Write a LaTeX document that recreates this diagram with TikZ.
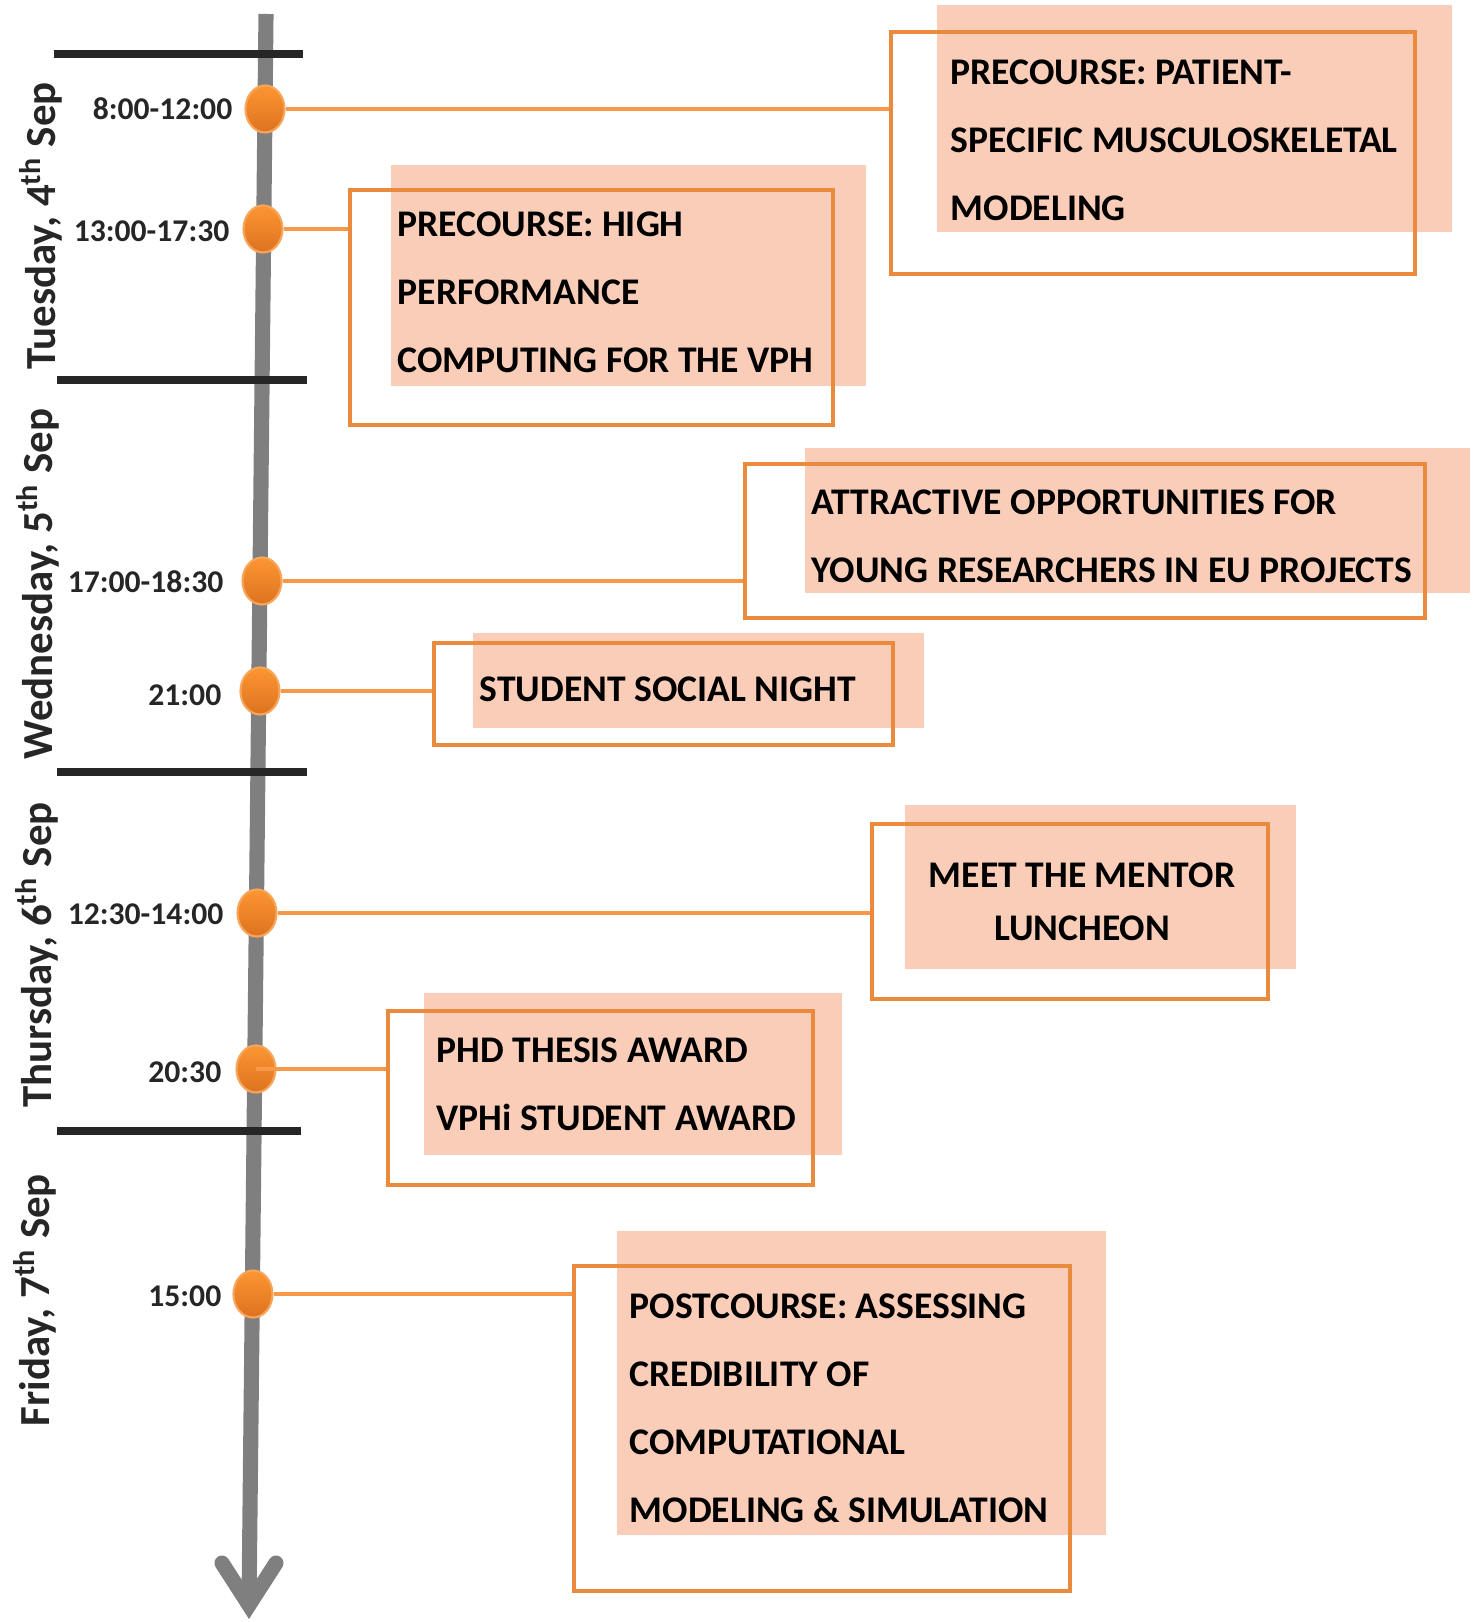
\documentclass[tikz,border=0pt]{standalone}
\usepackage{fontspec}
\setmainfont{Carlito}
\usetikzlibrary{shapes.geometric,fit}
\definecolor{tlgray}{RGB}{127,127,127}
\definecolor{barblack}{RGB}{38,38,38}
\definecolor{peach}{RGB}{249,205,184}
\definecolor{frameorange}{RGB}{233,138,60}
\definecolor{linkorange}{RGB}{246,152,72}
\definecolor{dottop}{RGB}{252,150,50}
\definecolor{dotbot}{RGB}{222,114,32}
\definecolor{dotedge}{RGB}{247,165,90}
\begin{document}
\begin{tikzpicture}[x=0.01cm,y=-0.01cm,
timeline/.style={draw=tlgray,line width=4.3pt},
dayline/.style={draw=barblack,line width=2.3pt},
dot/.style={ellipse,minimum width=0.39cm,minimum height=0.47cm,inner sep=0,top color=dottop,bottom color=dotbot,draw=dotedge,line width=0.6pt},
link/.style={draw=linkorange,line width=1pt},
peachfill/.style={fill=peach,inner sep=0},
frame/.style={draw=frameorange,line width=1.15pt,inner sep=0},
boxtext/.style={font=\fontsize{10.7}{19.3}\selectfont\bfseries,align=left,inner sep=0,anchor=west},
time/.style={font=\fontsize{9}{11}\selectfont\bfseries,inner sep=0,anchor=east,text=barblack},
day/.style={font=\fontsize{12.2}{14}\selectfont\bfseries,rotate=90,inner sep=0,text=barblack}]
\useasboundingbox (0,0) rectangle (1481,1622);
\node[peachfill,fit={(937,5)(1452,232)}] (p1) {};
\node[peachfill,fit={(391,165)(866,386)}] (p2) {};
\node[peachfill,fit={(805,448)(1470,593)}] (p3) {};
\node[peachfill,fit={(473,633)(924,728)}] (p4) {};
\node[peachfill,fit={(905,805)(1296,969)}] (p5) {};
\node[peachfill,fit={(424,993)(842,1155)}] (p6) {};
\node[peachfill,fit={(617,1231)(1106,1535)}] (p7) {};
\node[frame,fit={(891,32)(1415,274)}] (f1) {};
\node[frame,fit={(350,190)(833,425)}] (f2) {};
\node[frame,fit={(745,464)(1425,618)}] (f3) {};
\node[frame,fit={(434,643)(893,745)}] (f4) {};
\node[frame,fit={(872,824)(1268,999)}] (f5) {};
\node[frame,fit={(388,1011)(813,1185)}] (f6) {};
\node[frame,fit={(574,1266)(1070,1591)}] (f7) {};
\node[boxtext] (b1) at (950,140) {PRECOURSE: PATIENT-\\SPECIFIC MUSCULOSKELETAL\\MODELING};
\node[boxtext] (b2) at (397,292) {PRECOURSE: HIGH\\PERFORMANCE\\COMPUTING FOR THE VPH};
\node[boxtext] (b3) at (811,536) {ATTRACTIVE OPPORTUNITIES FOR\\YOUNG RESEARCHERS IN EU PROJECTS};
\node[boxtext] (b4) at (479,689) {STUDENT SOCIAL NIGHT};
\node[boxtext,align=center,anchor=center,font=\fontsize{10.7}{15.1}\selectfont\bfseries] (b5) at (1082,902) {MEET THE MENTOR\\LUNCHEON};
\node[boxtext] (b6) at (436,1084) {PHD THESIS AWARD\\VPHi STUDENT AWARD};
\node[boxtext] (b7) at (629,1408) {POSTCOURSE: ASSESSING\\CREDIBILITY OF\\COMPUTATIONAL\\MODELING \& SIMULATION};
\coordinate (top) at (266,14);\coordinate (tip) at (249,1605);
\draw[timeline] (top)--(tip);
\draw[timeline,line cap=round,line join=miter] (tip)++(-27,-42)--(tip)--++(27,-42);
\draw[dayline] (54,54)--(303,54) (57,380)--(307,380) (57,772)--(307,772) (57,1131)--(301,1131);
\node[day] (tue) at (41,226) {Tuesday, 4\textsuperscript{th} Sep};
\node[day] (wed) at (38,584) {Wednesday, 5\textsuperscript{th} Sep};
\node[day] (thu) at (37,955) {Thursday, 6\textsuperscript{th} Sep};
\node[day] (fri) at (35,1300) {Friday, 7\textsuperscript{th} Sep};
\node[dot] (d1) at (265,109) {};\node[dot] (d2) at (263,229) {};
\node[dot] (d3) at (262,581) {};\node[dot] (d4) at (260,691) {};
\node[dot] (d5) at (257,913) {};\node[dot] (d6) at (256,1069) {};
\node[dot] (d7) at (253,1294) {};
\draw[link] (d1.east)--(d1-|f1.west) (d2.east)--(d2-|f2.west) (d3.east)--(d3-|f3.west)
(d4.east)--(d4-|f4.west) (d5.east)--(d5-|f5.west) (d6.center)--(d6-|f6.west) (d7.east)--(d7-|f7.west);
\node[time] (t1) at (233,109) {8:00-12:00};
\node[time] (t2) at (230,231) {13:00-17:30};
\node[time] (t3) at (224,582) {17:00-18:30};
\node[time] (t4) at (222,695) {21:00};
\node[time] (t5) at (224,914) {12:30-14:00};
\node[time] (t6) at (222,1072) {20:30};
\node[time] (t7) at (222,1296) {15:00};
\end{tikzpicture}
\end{document}
